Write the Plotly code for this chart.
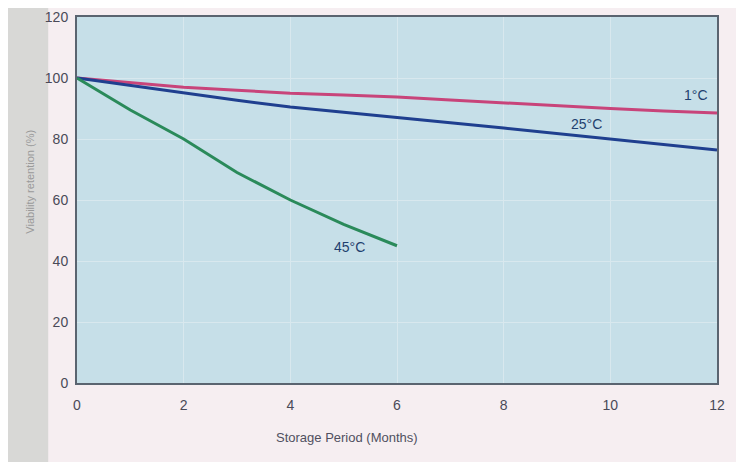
import plotly.graph_objects as go

months = [0, 1, 2, 3, 4, 5, 6, 7, 8, 9, 10, 11, 12]
temp_1c = [100, 98.5, 97, 96, 95, 94.4, 93.8, 92.8, 91.8, 90.9, 90, 89.2, 88.5]
temp_25c = [100, 97.6, 95, 92.7, 90.5, 88.7, 87, 85.3, 83.6, 81.8, 80, 78.2, 76.4]
months_45 = [0, 1, 2, 3, 4, 5, 6]
temp_45c = [100, 89.5, 80, 69, 60, 52, 45]
x_ticks = [0, 2, 4, 6, 8, 10, 12]
y_ticks = [0, 20, 40, 60, 80, 100, 120]

fig = go.Figure()
fig.add_trace(go.Scatter(x=months, y=temp_1c, mode="lines",
                         line=dict(color="#c8447a", width=3), name="1°C"))
fig.add_trace(go.Scatter(x=months, y=temp_25c, mode="lines",
                         line=dict(color="#1f3f8f", width=3), name="25°C"))
fig.add_trace(go.Scatter(x=months_45, y=temp_45c, mode="lines",
                         line=dict(color="#2a8a5a", width=3), name="45°C"))

for txt, x, y in [("1°C", 11.6, 94.5), ("25°C", 9.55, 85), ("45°C", 5.1, 44.5)]:
    fig.add_annotation(x=x, y=y, text=txt, showarrow=False,
                       font=dict(size=14, color="#1f3f6f", family="Liberation Sans"))

# grey left strip
fig.add_shape(type="rect", xref="paper", yref="paper", x0=-0.2, x1=-0.045, y0=-0.4, y1=1.1,
              fillcolor="#d8d8d6", line=dict(width=0), layer="below")

fig.add_annotation(xref="paper", yref="paper", x=-0.086, y=0.55, text="Viability retention (%)",
                   textangle=-90, showarrow=False,
                   font=dict(size=11, color="#9a9a9a", family="Liberation Sans"))
fig.add_annotation(xref="paper", yref="paper", x=0.422, y=-0.15, text="Storage Period (Months)",
                   showarrow=False, xanchor="center", yanchor="middle",
                   font=dict(size=13, color="#505060", family="Liberation Sans"))

fig.update_layout(
    width=744, height=462,
    margin=dict(l=69, r=35, t=9, b=87, autoexpand=False),
    paper_bgcolor="#f6eef1",
    plot_bgcolor="#c6dfe8",
    showlegend=False,
    font=dict(family="Liberation Sans", size=14, color="#4a4a58"),
)
fig.update_xaxes(range=[0, 12], tickvals=x_ticks, showgrid=True, gridcolor="#d8e8ee",
                 zeroline=False, showline=True, linecolor="#5a6470", linewidth=2, mirror=True,
                 ticks="", ticklabelstandoff=8)
fig.update_yaxes(range=[0, 120], tickvals=y_ticks, showgrid=True, gridcolor="#d8e8ee",
                 zeroline=False, showline=True, linecolor="#5a6470", linewidth=2, mirror=True,
                 ticks="", ticklabelstandoff=4)

fig.write_html("out.html")
